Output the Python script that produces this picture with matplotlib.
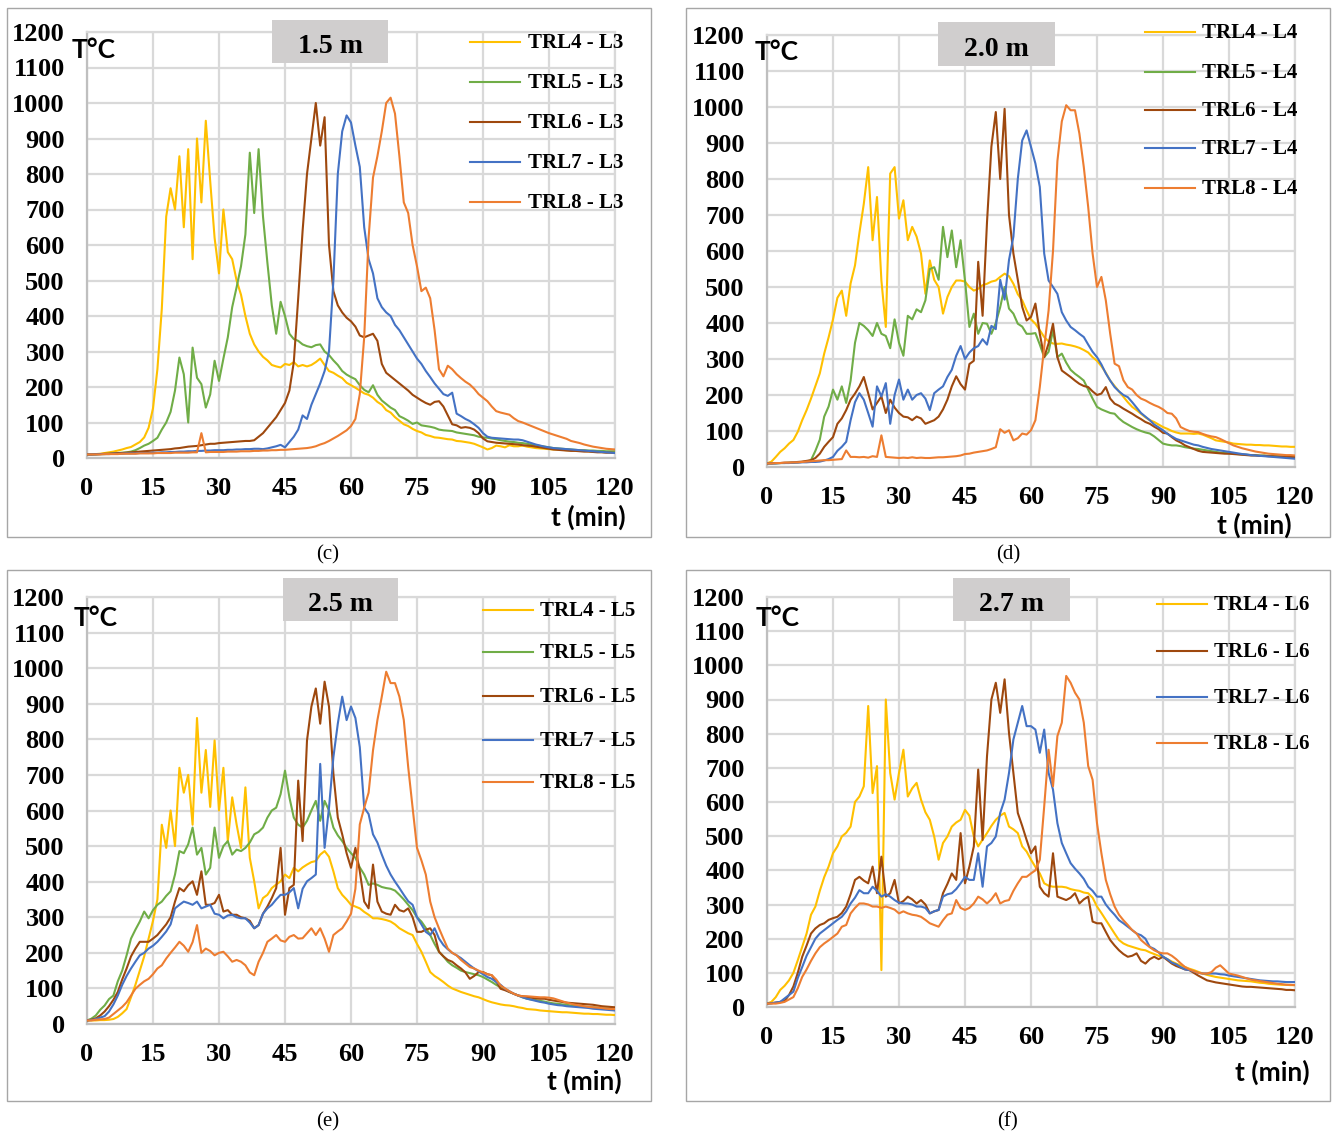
import numpy as np
import matplotlib
matplotlib.use("Agg")
import matplotlib.pyplot as plt
from matplotlib.patches import Rectangle
from matplotlib.lines import Line2D

W, H = 1334, 1135

# one reading per minute, 0..120 min
minutes = np.arange(0, 121)

# ---- (c) 1.5 m ----
c_title = "1.5 m"
c_labels = ["TRL4 - L3", "TRL5 - L3", "TRL6 - L3", "TRL7 - L3", "TRL8 - L3"]
c_trl4 = [10, 10, 11, 12, 14, 16, 18, 21, 24, 28,
          31, 38, 45, 58, 85, 140, 250, 420, 680, 760,
          700, 850, 650, 870, 560, 900, 720, 950, 780, 620,
          520, 700, 580, 560, 500, 460, 400, 350, 320, 300,
          285, 275, 262, 258, 255, 265, 262, 270, 258, 262,
          258, 262, 270, 280, 262, 245, 240, 232, 225, 212,
          205, 198, 190, 182, 178, 170, 158, 150, 135, 128,
          115, 105, 95, 90, 82, 76, 72, 65, 62, 58,
          57, 55, 53, 52, 48, 47, 45, 43, 40, 35,
          30, 24, 28, 35, 33, 30, 36, 33, 33, 35,
          32, 30, 28, 27, 26, 25, 24, 24, 23, 22,
          22, 21, 20, 20, 19, 18, 18, 17, 16, 16,
          15]
c_trl5 = [10, 10, 10, 11, 11, 12, 13, 14, 15, 16,
          18, 22, 28, 35, 40, 48, 57, 80, 100, 130,
          190, 283, 236, 100, 311, 226, 208, 142, 179, 274,
          217, 280, 340, 425, 481, 540, 630, 860, 690, 870,
          680, 550, 430, 350, 440, 400, 350, 335, 330, 320,
          315, 312, 318, 320, 300, 290, 275, 262, 245, 235,
          228, 222, 205, 192, 185, 205, 178, 162, 152, 142,
          135, 118, 112, 105, 96, 100, 92, 90, 88, 85,
          80, 78, 77, 76, 72, 70, 68, 66, 64, 60,
          58, 57, 55, 53, 50, 48, 46, 45, 43, 42,
          40, 38, 36, 34, 32, 30, 28, 27, 26, 25,
          24, 23, 22, 22, 21, 21, 20, 20, 19, 19,
          19]
c_trl6 = [10, 10, 11, 11, 12, 12, 13, 14, 14, 15,
          16, 17, 18, 19, 20, 21, 22, 23, 24, 25,
          27, 28, 30, 32, 33, 34, 36, 38, 40, 40,
          42, 43, 44, 45, 46, 47, 48, 48, 50, 60,
          70, 85, 100, 115, 135, 155, 190, 270, 450, 640,
          800, 900, 1000, 880, 960, 600, 470, 430, 410, 395,
          385, 370, 345, 340, 345, 350, 330, 265, 240, 230,
          220, 210, 200, 190, 178, 170, 162, 155, 150, 158,
          160, 145, 120, 95, 92, 85, 87, 85, 80, 70,
          55, 47, 45, 43, 42, 41, 40, 39, 38, 36,
          35, 34, 32, 30, 28, 26, 24, 23, 22, 21,
          20, 20, 19, 18, 18, 17, 16, 16, 15, 15,
          14]
c_trl7 = [10, 10, 10, 11, 11, 11, 12, 12, 12, 13,
          13, 13, 14, 14, 14, 15, 15, 16, 16, 17,
          17, 18, 18, 19, 19, 20, 20, 21, 21, 22,
          22, 22, 23, 23, 24, 24, 25, 25, 26, 26,
          25, 27, 30, 33, 37, 30, 45, 60, 80, 120,
          110, 150, 180, 210, 245, 300, 500, 800, 920, 965,
          945, 880, 820, 650, 560, 520, 450, 425, 410, 400,
          375, 360, 340, 320, 300, 280, 265, 245, 228, 210,
          195, 180, 175, 184, 125, 118, 110, 104, 95, 85,
          70, 60, 57, 56, 55, 54, 53, 52, 52, 50,
          46, 42, 38, 35, 32, 30, 28, 27, 26, 25,
          24, 23, 22, 21, 20, 19, 18, 17, 16, 15,
          14]
c_trl8 = [10, 10, 10, 10, 11, 11, 11, 11, 12, 12,
          12, 12, 13, 13, 13, 13, 14, 14, 14, 14,
          15, 15, 15, 15, 16, 16, 70, 16, 17, 17,
          17, 17, 18, 18, 18, 19, 19, 19, 20, 20,
          21, 21, 22, 22, 23, 23, 24, 25, 26, 27,
          28, 30, 33, 38, 42, 48, 55, 62, 70, 78,
          90, 110, 180, 340, 620, 790, 850, 920, 1000, 1015,
          970, 850, 720, 690, 600, 540, 470, 480, 450, 360,
          250, 230, 260, 250, 236, 225, 215, 207, 195, 180,
          170, 160, 145, 132, 128, 125, 122, 112, 104, 100,
          95, 90, 85, 80, 75, 70, 66, 62, 58, 54,
          48, 45, 42, 38, 35, 32, 30, 28, 26, 25,
          24]

# ---- (d) 2.0 m ----
d_title = "2.0 m"
d_labels = ["TRL4 - L4", "TRL5 - L4", "TRL6 - L4", "TRL7 - L4", "TRL8 - L4"]
d_trl4 = [10, 15, 28, 42, 52, 65, 75, 98, 130, 158,
          190, 225, 260, 315, 360, 410, 470, 490, 420, 510,
          560, 650, 731, 833, 630, 750, 518, 389, 815, 833,
          690, 741, 630, 667, 640, 593, 481, 574, 520, 500,
          426, 472, 500, 518, 518, 515, 500, 490, 495, 505,
          509, 515, 518, 528, 537, 530, 509, 480, 463, 435,
          410, 398, 380, 361, 349, 343, 342, 343, 340, 338,
          335, 331, 325, 318, 305, 295, 280, 262, 240, 225,
          210, 195, 180, 167, 158, 148, 138, 130, 125, 118,
          111, 106, 100, 96, 93, 93, 93, 92, 93, 90,
          85, 80, 74, 72, 70, 68, 65, 64, 63, 62,
          62, 61, 61, 60, 60, 59, 58, 57, 57, 56,
          56]
d_trl5 = [10, 10, 10, 11, 11, 12, 12, 13, 14, 15,
          19, 45, 76, 140, 168, 215, 187, 224, 178, 240,
          345, 400, 392, 380, 364, 400, 370, 364, 330, 410,
          345, 309, 420, 410, 438, 430, 463, 550, 555, 520,
          667, 583, 657, 555, 630, 518, 389, 426, 370, 400,
          398, 370, 400, 444, 500, 440, 426, 398, 390, 370,
          370, 372, 340, 305, 320, 380, 305, 315, 290, 270,
          259, 250, 240, 215, 190, 167, 160, 155, 150, 148,
          135, 125, 118, 111, 105, 100, 96, 93, 85, 75,
          65, 62, 60, 60, 58, 55, 53, 51, 50, 48,
          46, 44, 42, 40, 39, 38, 37, 36, 35, 34,
          33, 33, 32, 32, 31, 30, 30, 29, 29, 28,
          28]
d_trl6 = [10, 10, 11, 11, 12, 12, 13, 14, 15, 17,
          19, 25, 37, 56, 70, 83, 120, 135, 158, 187,
          204, 224, 250, 205, 160, 178, 196, 150, 187, 165,
          150, 140, 138, 130, 140, 135, 120, 125, 130, 140,
          160, 187, 224, 252, 230, 215, 286, 295, 570, 420,
          680, 890, 986, 800, 995, 700, 593, 520, 445, 407,
          417, 454, 370, 305, 343, 398, 305, 268, 259, 250,
          240, 231, 225, 222, 210, 200, 204, 222, 190, 176,
          170, 162, 155, 148, 140, 133, 125, 120, 112, 105,
          95, 93, 83, 74, 68, 60, 55, 50, 45, 42,
          41, 40, 39, 38, 37, 37, 36, 35, 34, 33,
          32, 32, 31, 31, 30, 30, 29, 29, 28, 28,
          28]
d_trl7 = [10, 10, 10, 11, 11, 11, 12, 12, 13, 13,
          14, 14, 15, 18, 22, 28, 45, 56, 70, 130,
          180, 205, 187, 150, 112, 224, 196, 233, 120, 200,
          243, 187, 215, 187, 200, 205, 190, 158, 205, 215,
          224, 250, 270, 309, 336, 300, 318, 330, 336, 355,
          340, 392, 383, 520, 465, 575, 640, 800, 907, 935,
          889, 843, 778, 593, 518, 500, 481, 430, 407, 389,
          380, 370, 361, 340, 320, 305, 285, 260, 240, 222,
          210, 200, 194, 180, 165, 150, 140, 130, 118, 110,
          102, 92, 85, 78, 74, 70, 66, 62, 60, 56,
          53, 50, 48, 46, 44, 42, 40, 38, 36, 35,
          33, 32, 31, 30, 29, 28, 27, 26, 25, 24,
          23]
d_trl8 = [10, 10, 11, 11, 12, 12, 13, 13, 14, 15,
          16, 17, 18, 19, 19, 20, 21, 22, 46, 28,
          28, 27, 28, 26, 30, 28, 88, 28, 27, 26,
          25, 26, 25, 27, 25, 26, 25, 25, 26, 27,
          27, 28, 29, 30, 32, 36, 37, 40, 42, 44,
          46, 50, 55, 105, 95, 102, 74, 80, 93, 90,
          102, 130, 222, 333, 435, 600, 850, 960, 1005, 991,
          991, 926, 833, 722, 593, 500, 528, 463, 370, 287,
          280, 241, 222, 215, 200, 190, 185, 178, 172, 167,
          160, 150, 148, 135, 111, 105, 100, 98, 97, 92,
          88, 85, 83, 78, 72, 66, 60, 56, 52, 49,
          46, 43, 41, 39, 37, 36, 35, 34, 33, 33,
          32]

# ---- (e) 2.5 m ----
e_title = "2.5 m"
e_labels = ["TRL4 - L5", "TRL5 - L5", "TRL6 - L5", "TRL7 - L5", "TRL8 - L5"]
e_trl4 = [10, 10, 10, 11, 11, 12, 14, 20, 30, 42,
          75, 110, 150, 190, 240, 290, 350, 560, 495, 600,
          500, 720, 650, 700, 560, 860, 650, 770, 610, 797,
          600, 720, 514, 637, 561, 495, 665, 467, 401, 325,
          354, 363, 382, 392, 401, 420, 410, 439, 429, 440,
          448, 455, 458, 476, 486, 470, 429, 382, 363, 350,
          335, 330, 325, 315, 307, 297, 297, 295, 292, 288,
          280, 269, 262, 255, 250, 225, 203, 175, 146, 135,
          127, 118, 108, 100, 95, 90, 86, 82, 78, 75,
          70, 65, 61, 58, 55, 53, 52, 50, 47, 45,
          42, 41, 40, 38, 37, 36, 35, 34, 33, 33,
          32, 31, 30, 29, 29, 28, 28, 27, 26, 26,
          25]
e_trl5 = [10, 15, 24, 40, 52, 70, 80, 120, 150, 193,
          240, 265, 288, 316, 297, 320, 335, 344, 360, 373,
          420, 486, 480, 505, 552, 476, 495, 420, 439, 552,
          467, 500, 514, 476, 490, 486, 495, 510, 533, 540,
          552, 580, 600, 608, 646, 712, 637, 580, 560, 552,
          571, 600, 627, 571, 627, 600, 552, 530, 514, 495,
          480, 467, 440, 420, 391, 395, 391, 385, 382, 380,
          375, 363, 350, 335, 320, 300, 288, 270, 250, 225,
          203, 190, 175, 165, 158, 150, 146, 143, 140, 137,
          132, 125, 118, 110, 103, 97, 90, 85, 80, 75,
          71, 69, 67, 65, 63, 60, 58, 57, 55, 54,
          52, 51, 50, 49, 48, 47, 46, 45, 44, 43,
          42]
e_trl6 = [10, 12, 16, 24, 35, 50, 68, 90, 125, 156,
          190, 212, 231, 231, 231, 240, 250, 265, 280, 300,
          344, 382, 373, 390, 401, 363, 429, 335, 335, 340,
          363, 316, 320, 307, 307, 300, 297, 290, 269, 278,
          310, 330, 354, 382, 495, 307, 382, 391, 684, 514,
          797, 892, 943, 844, 962, 892, 703, 580, 533, 480,
          439, 495, 429, 344, 325, 448, 344, 316, 310, 307,
          335, 320, 316, 325, 300, 259, 259, 265, 269, 250,
          203, 190, 180, 175, 165, 156, 145, 127, 135, 146,
          146, 140, 137, 120, 99, 95, 90, 85, 80, 78,
          76, 74, 72, 71, 71, 68, 66, 64, 62, 60,
          59, 58, 57, 56, 55, 54, 52, 50, 49, 48,
          47]
e_trl7 = [10, 11, 14, 18, 22, 35, 55, 80, 110, 135,
          156, 175, 193, 200, 212, 220, 231, 245, 260, 280,
          325, 335, 344, 340, 335, 344, 325, 330, 335, 310,
          307, 297, 305, 307, 300, 297, 297, 285, 269, 278,
          310, 325, 335, 350, 363, 363, 370, 382, 325, 380,
          401, 410, 420, 731, 495, 608, 750, 844, 920, 854,
          892, 860, 778, 608, 590, 533, 510, 476, 445, 420,
          400, 382, 363, 345, 335, 300, 280, 259, 250, 269,
          240, 222, 210, 200, 193, 185, 175, 165, 156, 148,
          140, 132, 127, 118, 110, 99, 92, 85, 80, 75,
          71, 68, 65, 62, 60, 57, 55, 53, 52, 50,
          49, 48, 47, 46, 45, 43, 42, 41, 40, 39,
          38]
e_trl8 = [10, 10, 12, 13, 14, 18, 28, 38, 48, 61,
          80, 99, 110, 120, 127, 140, 156, 165, 184, 200,
          215, 231, 220, 203, 230, 278, 200, 212, 205, 193,
          200, 203, 190, 175, 180, 175, 165, 145, 137, 175,
          200, 231, 240, 250, 235, 231, 245, 250, 240, 241,
          255, 269, 250, 269, 240, 203, 250, 260, 269, 288,
          310, 380, 561, 608, 650, 769, 854, 920, 990, 958,
          958, 920, 854, 722, 608, 495, 460, 420, 344, 300,
          269, 240, 212, 200, 193, 180, 170, 160, 156, 150,
          145, 140, 137, 125, 108, 100, 92, 85, 80, 78,
          78, 77, 76, 75, 75, 74, 72, 68, 64, 60,
          57, 54, 52, 50, 48, 47, 46, 45, 43, 42,
          42]

# ---- (f) 2.7 m ----
f_title = "2.7 m"
f_labels = ["TRL4 - L6", "TRL6 - L6", "TRL7 - L6", "TRL8 - L6"]
f_trl4 = [10, 15, 29, 50, 62, 78, 100, 137, 176, 215,
          270, 294, 340, 380, 411, 450, 470, 499, 510, 528,
          600, 616, 646, 881, 626, 705, 108, 900, 685, 607,
          685, 753, 616, 640, 656, 607, 570, 548, 499, 431,
          480, 499, 528, 540, 548, 577, 560, 499, 470, 490,
          509, 530, 548, 560, 568, 528, 520, 509, 470, 455,
          431, 410, 391, 362, 355, 352, 352, 352, 350, 345,
          342, 340, 335, 333, 320, 294, 275, 255, 235, 215,
          196, 186, 180, 176, 172, 168, 166, 160, 155, 150,
          147, 140, 133, 127, 122, 117, 112, 108, 103, 98,
          94, 91, 88, 86, 84, 82, 80, 78, 77, 76,
          75, 73, 71, 70, 68, 67, 66, 65, 65, 64,
          64]
f_trl6 = [10, 11, 13, 15, 18, 35, 60, 100, 147, 180,
          215, 230, 240, 245, 255, 260, 264, 275, 294, 330,
          372, 381, 370, 362, 411, 333, 440, 323, 333, 372,
          303, 310, 323, 315, 303, 313, 300, 274, 280, 284,
          333, 360, 391, 372, 509, 362, 411, 470, 695, 489,
          734, 900, 949, 861, 959, 802, 685, 568, 530, 489,
          450, 470, 352, 333, 323, 450, 323, 318, 313, 320,
          333, 303, 315, 323, 250, 245, 245, 220, 196, 180,
          166, 155, 147, 150, 157, 135, 127, 140, 147, 140,
          147, 137, 127, 120, 115, 110, 108, 100, 92, 85,
          78, 75, 72, 70, 68, 66, 64, 62, 60, 59,
          59, 58, 57, 56, 55, 54, 53, 52, 50, 50,
          49]
f_trl7 = [10, 11, 13, 15, 25, 35, 45, 85, 117, 150,
          175, 200, 215, 225, 235, 245, 255, 264, 280, 303,
          320, 342, 333, 333, 352, 340, 323, 330, 323, 313,
          305, 303, 303, 300, 294, 294, 290, 274, 280, 284,
          323, 330, 333, 345, 362, 381, 372, 372, 450, 352,
          470, 480, 499, 568, 607, 685, 783, 832, 881, 822,
          822, 812, 744, 812, 685, 636, 538, 480, 450, 421,
          405, 391, 375, 352, 340, 323, 323, 300, 284, 270,
          254, 245, 235, 225, 215, 210, 200, 176, 170, 160,
          147, 140, 130, 125, 117, 110, 108, 104, 100, 98,
          98, 98, 98, 96, 95, 92, 90, 88, 86, 84,
          82, 80, 78, 77, 76, 75, 75, 74, 73, 73,
          73]
f_trl8 = [10, 10, 10, 12, 15, 22, 29, 55, 88, 110,
          135, 157, 175, 186, 195, 205, 215, 235, 240, 274,
          290, 303, 303, 300, 294, 294, 290, 294, 290, 285,
          274, 280, 274, 270, 268, 264, 255, 245, 240, 235,
          254, 270, 274, 313, 290, 284, 290, 303, 323, 315,
          303, 315, 333, 303, 310, 313, 340, 362, 381, 381,
          391, 400, 431, 587, 753, 646, 793, 832, 969, 949,
          920, 900, 832, 705, 665, 538, 450, 372, 330, 294,
          270, 254, 240, 225, 215, 196, 185, 175, 166, 160,
          157, 157, 150, 140, 128, 117, 110, 105, 100, 98,
          98, 102, 115, 122, 110, 98, 95, 92, 88, 84,
          80, 78, 76, 74, 72, 70, 68, 67, 65, 65,
          64]

# excel default palette, keyed by sensor tree
trl_colours = {"TRL4": "#FFC000", "TRL5": "#70AD47", "TRL6": "#9E480E",
               "TRL7": "#4472C4", "TRL8": "#ED7D31"}

# pixel layout of each panel (left, top, right, bottom)
layouts = [
    dict(frame=(7, 8, 651, 537), axes=(87, 32, 615, 458), box=(272, 20, 388, 63),
         tc=(72, 50), tmin=(626, 517), leg_x=(470, 520, 528), leg_y=[42, 82, 122, 162, 202],
         cap=(328, 553), cap_text="(c)"),
    dict(frame=(686, 8, 1330, 537), axes=(767, 35, 1295, 467), box=(938, 22, 1055, 66),
         tc=(755, 52), tmin=(1292, 525), leg_x=(1145, 1195, 1202), leg_y=[32, 72, 110, 148, 188],
         cap=(1008, 553), cap_text="(d)"),
    dict(frame=(7, 570, 651, 1101), axes=(87, 597, 615, 1024), box=(283, 578, 398, 621),
         tc=(74, 618), tmin=(622, 1081), leg_x=(483, 533, 540), leg_y=[610, 652, 696, 740, 782],
         cap=(328, 1120), cap_text="(e)"),
    dict(frame=(686, 570, 1330, 1101), axes=(767, 597, 1295, 1007), box=(953, 578, 1070, 621),
         tc=(756, 618), tmin=(1310, 1072), leg_x=(1157, 1207, 1214), leg_y=[604, 651, 697, 743],
         cap=(1008, 1120), cap_text="(f)"),
]

SERIF = "Liberation Serif"
SANS = "Lato"


def fx(x):
    return x / W


def fy(y):
    return 1 - y / H


def draw_panel(fig, lay, title, labels, series):
    # grey outline round the whole panel
    l, t, r, b = lay["frame"]
    fig.add_artist(Rectangle((fx(l), fy(b)), fx(r - l), (b - t) / H, fill=False,
                             edgecolor="#a6a6a6", lw=1.0, transform=fig.transFigure))

    l, t, r, b = lay["axes"]
    ax = fig.add_axes([fx(l), fy(b), fx(r - l), (b - t) / H])
    for vals, lab in zip(series, labels):
        ax.plot(minutes, vals, color=trl_colours[lab.split()[0]], lw=1.5, zorder=3)

    ax.set_xlim(0, 120)
    ax.set_ylim(0, 1200)
    ax.set_xticks(np.arange(0, 121, 15))
    ax.set_yticks(np.arange(0, 1201, 100))
    ax.grid(True, color="#d9d9d9", lw=1.6)
    ax.set_axisbelow(True)
    for side in ["top", "right"]:
        ax.spines[side].set_color("#d9d9d9")
        ax.spines[side].set_linewidth(1.6)
    for side in ["left", "bottom"]:
        ax.spines[side].set_color("#bfbfbf")
        ax.spines[side].set_linewidth(1.6)
    ax.tick_params(length=0, labelsize=19)
    ax.tick_params(axis="x", pad=14)
    ax.tick_params(axis="y", pad=16)
    for lbl in ax.get_xticklabels() + ax.get_yticklabels():
        lbl.set_fontfamily(SERIF)
        lbl.set_fontweight("bold")

    # axis captions
    fig.text(fx(lay["tc"][0]), fy(lay["tc"][1]), "T°C", family=SANS, weight="bold",
             fontsize=19, va="center", ha="left")
    fig.text(fx(lay["tmin"][0]), fy(lay["tmin"][1]), "t (min)", family=SANS, weight="bold",
             fontsize=19, va="center", ha="right")

    # grey title box with height of the measurement
    l, t, r, b = lay["box"]
    fig.add_artist(Rectangle((fx(l), fy(b)), fx(r - l), (b - t) / H, facecolor="#d0cece",
                             edgecolor="none", transform=fig.transFigure, zorder=5))
    fig.text(fx((l + r) / 2), fy((t + b) / 2 + 5), title, family=SERIF, weight="bold",
             fontsize=20, ha="center", va="center", zorder=6)

    # legend drawn by hand so it sits where the original one is
    x0, x1, xt = lay["leg_x"]
    for lab, y in zip(labels, lay["leg_y"]):
        fig.add_artist(Line2D([fx(x0), fx(x1)], [fy(y), fy(y)], color=trl_colours[lab.split()[0]],
                              lw=1.5, transform=fig.transFigure))
        fig.text(fx(xt), fy(y + 1), lab, family=SERIF, weight="bold", fontsize=15,
                 ha="left", va="center")

    fig.text(fx(lay["cap"][0]), fy(lay["cap"][1] + 2), lay["cap_text"], family=SERIF,
             fontsize=15, ha="center", va="center")


if __name__ == "__main__":
    fig = plt.figure(figsize=(W / 100, H / 100), dpi=100)

    panels = [
        (c_title, c_labels, [c_trl4, c_trl5, c_trl6, c_trl7, c_trl8]),
        (d_title, d_labels, [d_trl4, d_trl5, d_trl6, d_trl7, d_trl8]),
        (e_title, e_labels, [e_trl4, e_trl5, e_trl6, e_trl7, e_trl8]),
        (f_title, f_labels, [f_trl4, f_trl6, f_trl7, f_trl8]),
    ]
    for lay, (title, labels, series) in zip(layouts, panels):
        draw_panel(fig, lay, title, labels, series)

    fig.savefig("out.png", dpi=100)
